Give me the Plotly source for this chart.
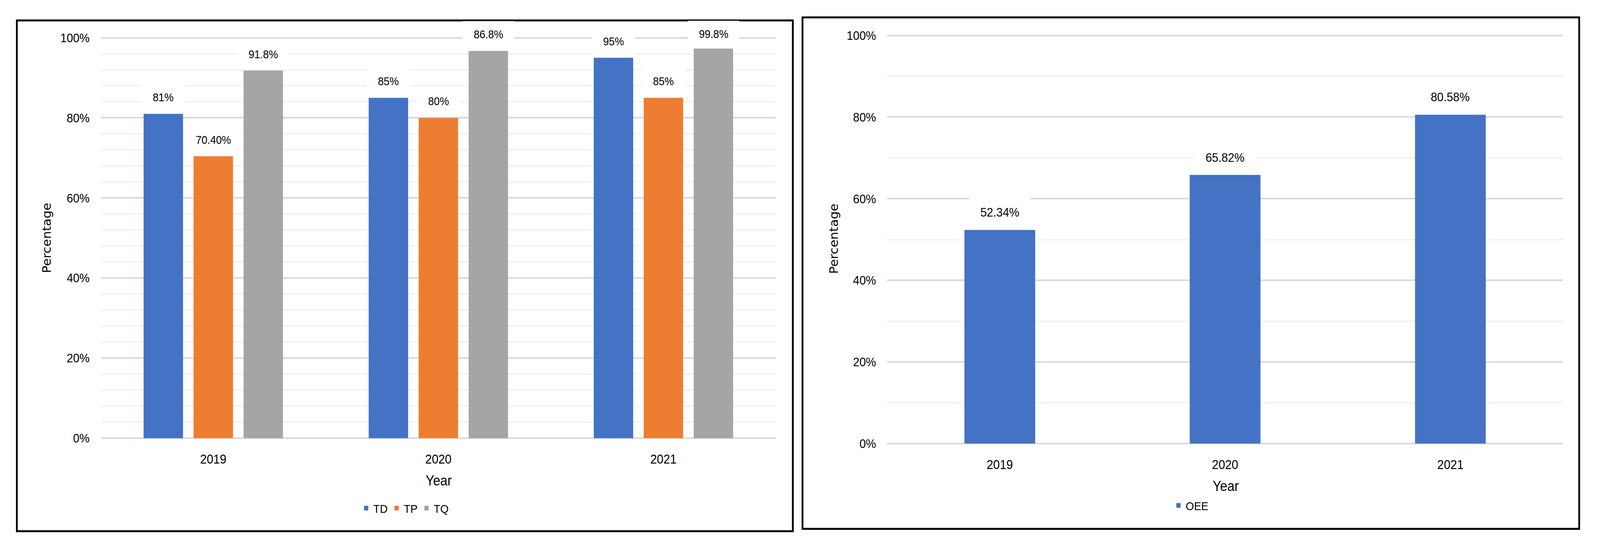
import plotly.graph_objects as go

# ---------------- data ----------------
years = ["2019", "2020", "2021"]
td = [81, 85, 95]
tp = [70.4, 80, 85]
tq = [91.8, 96.7, 97.3]          # bar heights as drawn
td_labels = ["81%", "85%", "95%"]
tp_labels = ["70.40%", "80%", "85%"]
tq_labels = ["91.8%", "86.8%", "99.8%"]
oee = [52.34, 65.82, 80.58]
oee_labels = ["52.34%", "65.82%", "80.58%"]
y_ticks = [0, 20, 40, 60, 80, 100]

# ---------------- style ----------------
W, H = 4462, 1425
BLUE, ORANGE, GRAY = "#4472C4", "#ED7D31", "#A5A5A5"
MAJOR, MINOR = "#D9D9D9", "#F2F2F2"
FONT = "Liberation Sans, Arial, sans-serif"
TITLEFONT = "DejaVu Sans, Verdana, sans-serif"
PAD = 0.6   # axis padding (in %) so that 0% / 100% gridlines are drawn


def px(x):
    return x / W


def py(y):
    return 1 - y / H


def text_w(s, size):
    m = {".": 0.278, "%": 0.889}
    return sum(m.get(c, 0.556) for c in s) * size


def ydomain(y0px, y100px):
    ppu = (y0px - y100px) / 100.0
    return [py(y0px + PAD * ppu), py(y100px - PAD * ppu)], ppu


ydom1, ppu1 = ydomain(1128, 86)
ydom2, ppu2 = ydomain(1142, 80)

fig = go.Figure()
for name, vals, col in [("TD", td, BLUE), ("TP", tp, ORANGE), ("TQ", tq, GRAY)]:
    fig.add_trace(go.Bar(x=years, y=vals, name=name, marker_color=col,
                         marker_line_width=0, xaxis="x", yaxis="y",
                         legend="legend", hoverinfo="skip"))
fig.add_trace(go.Bar(x=years, y=oee, name="OEE", marker_color=BLUE,
                     marker_line_width=0, width=0.314, xaxis="x2", yaxis="y2",
                     legend="legend2", hoverinfo="skip"))

tickfont = dict(family=FONT, size=32, color="black")
xtickfont = dict(family=FONT, size=33, color="black")


def yaxis(domain, minor_dtick, anchor):
    return dict(domain=domain, anchor=anchor, range=[-PAD, 100 + PAD],
                tickvals=y_ticks, ticktext=[f"{v}%" for v in y_ticks],
                showgrid=True, gridcolor=MAJOR, gridwidth=4, zeroline=False,
                showline=False, ticks="", tickfont=tickfont,
                ticklabelstandoff=30,
                minor=dict(dtick=minor_dtick, tick0=0, showgrid=True,
                           gridcolor=MINOR, gridwidth=4, ticks=""),
                fixedrange=True)


def xaxis(domain, anchor):
    return dict(domain=domain, anchor=anchor, type="category",
                showgrid=False, zeroline=False, showline=False, ticks="",
                tickfont=xtickfont, ticklabelstandoff=25, fixedrange=True)


annotations = []
# data labels, left panel (kept inside the chart area like Excel does)
slot = (1 - 0.334) / 3
LBOX1 = 68
for labels, vals, off in [(td_labels, td, -slot), (tp_labels, tp, 0),
                          (tq_labels, tq, slot)]:
    for i, (lab, v) in enumerate(zip(labels, vals)):
        top_px = 1128 - v * ppu1
        shift = min(42, top_px - (43 + LBOX1 / 2))
        annotations.append(dict(
            x=i + off, y=v, xref="x", yref="y", text=lab, showarrow=False,
            yanchor="middle", yshift=shift, bgcolor="white", borderpad=0,
            borderwidth=0, width=text_w(lab, 29) + 62, height=LBOX1,
            font=dict(family=FONT, size=29, color="black")))
# data labels, right panel
for i, (lab, v) in enumerate(zip(oee_labels, oee)):
    annotations.append(dict(
        x=i, y=v, xref="x2", yref="y2", text=lab, showarrow=False,
        yanchor="middle", yshift=45, bgcolor="white", borderpad=0,
        borderwidth=0, width=text_w(lab, 32) + 60, height=80,
        font=dict(family=FONT, size=32, color="black")))

# axis titles
for x, y in [(1223, 1238), (3418, 1253)]:
    annotations.append(dict(x=px(x), y=py(y), xref="paper", yref="paper",
                            text="Year", showarrow=False, xanchor="center",
                            yanchor="middle",
                            font=dict(family=FONT, size=36, color="black")))
for x, y in [(130, 607), (2325, 609)]:
    annotations.append(dict(x=px(x), y=py(y), xref="paper", yref="paper",
                            text="Percentage", showarrow=False, textangle=-90,
                            xanchor="center", yanchor="middle",
                            font=dict(family=TITLEFONT, size=32, color="black")))

shapes = [
    dict(type="rect", xref="paper", yref="paper", x0=px(47), x1=px(2211),
         y0=py(1370), y1=py(41), line=dict(color="black", width=5),
         layer="above"),
    dict(type="rect", xref="paper", yref="paper", x0=px(2238), x1=px(4404),
         y0=py(1364), y1=py(33), line=dict(color="black", width=5),
         layer="above"),
]

legend_font = dict(family=FONT, size=30, color="black")
fig.update_layout(
    width=W, height=H, autosize=False,
    margin=dict(l=0, r=0, t=0, b=0, pad=0),
    paper_bgcolor="white", plot_bgcolor="white",
    barmode="group", bargap=0.334, bargroupgap=0.211,
    xaxis=xaxis([px(281), px(2164)], "y"),
    yaxis=yaxis(ydom1, 4, "x"),
    xaxis2=xaxis([px(2474), px(4359)], "y2"),
    yaxis2=yaxis(ydom2, 10, "x2"),
    legend=dict(orientation="h", x=px(1129), xanchor="center", y=py(1310),
                yanchor="middle", font=legend_font, bgcolor="rgba(0,0,0,0)",
                traceorder="normal"),
    legend2=dict(orientation="h", x=px(3321), xanchor="center", y=py(1303),
                 yanchor="middle", font=legend_font, bgcolor="rgba(0,0,0,0)"),
    annotations=annotations,
    shapes=shapes,
    showlegend=True,
)

# make the fixed-size figure fill the browser window exactly
post = """
document.documentElement.style.margin='0';
document.body.style.margin='0';
document.documentElement.style.overflow='hidden';
document.body.style.overflow='hidden';
var gd = document.getElementById('{plot_id}');
var sx = window.innerWidth / %d, sy = window.innerHeight / %d;
if (Math.abs(sx - 1) > 0.0005 || Math.abs(sy - 1) > 0.0005) {
  gd.style.transformOrigin = '0 0';
  gd.style.transform = 'scale(' + sx + ',' + sy + ')';
}
""" % (W, H)

fig.write_html("out.html", config={"displayModeBar": False}, post_script=post)
